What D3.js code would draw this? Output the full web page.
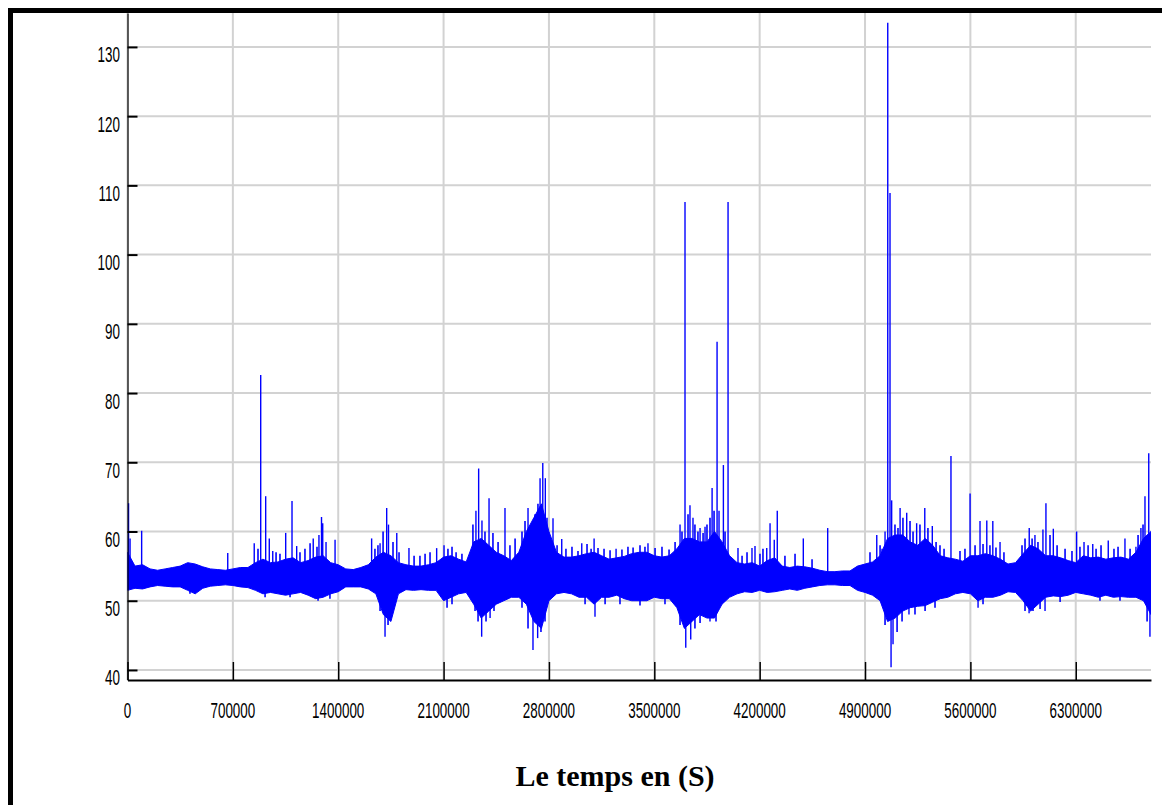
<!DOCTYPE html>
<html>
<head>
<meta charset="utf-8">
<script src="https://cdn.jsdelivr.net/npm/d3@7"></script>
<style>
  body { margin: 0; background: #fff; }
  svg { display: block; }
</style>
</head>
<body>
<svg id="chart" width="1162" height="805"></svg>
<script>
// tick values
var xTicks = [0, 700000, 1400000, 2100000, 2800000, 3500000, 4200000, 4900000, 5600000, 6300000];
var yTicks = [40, 50, 60, 70, 80, 90, 100, 110, 120, 130];

// dense band of the signal, read every 50000 s (upper / lower edge)
var binStep = 50000;
var bandHi = [57, 55, 55.2, 54.6, 54.4, 54.6, 54.8, 55, 55.5, 55.3,
  54.9, 54.6, 54.5, 54.4, 54.6, 54.8, 54.8, 55.5, 56, 55.5,
  55.6, 56, 56.2, 55.5, 55.8, 56.3, 56.5, 55.5, 55.2, 54.6,
  54.5, 54.8, 55.2, 56.3, 57, 56.5, 55.5, 55.2, 55, 55,
  55.2, 55.5, 56.3, 56.5, 56, 55.6, 58.5, 59, 58, 57,
  56.5, 55.8, 57, 60, 62, 64, 60, 57, 56.3, 56.3,
  56.5, 56.8, 57, 56.5, 56, 56.2, 56.4, 56.8, 57, 57,
  56.5, 56.3, 56.5, 57.5, 59, 59, 58.5, 58.5, 60, 58.5,
  56.5, 55.5, 55.3, 55.5, 55, 55.8, 56.2, 55, 54.8, 55,
  54.9, 54.7, 54.4, 54.2, 54.2, 54.3, 54.3, 55, 55.3, 55.6,
  56.5, 59, 59.5, 59.5, 58.5, 58, 59, 58, 56.5, 56.2,
  56, 55.7, 56.5, 56.5, 56.8, 56.5, 56, 55.3, 55.5, 56.8,
  58, 57.5, 56.5, 56.5, 56.2, 55.8, 55.5, 56.5, 56.2, 56.3,
  56, 56.2, 56.3, 56, 57, 59, 60];
var bandLo = [51.5, 51.8, 51.7, 52, 52.2, 52.1, 52, 52, 51.5, 51,
  51.8, 52.1, 52.2, 52.3, 52.2, 52, 51.9, 51.5, 51, 51.2,
  51, 50.8, 51, 51.2, 50.8, 50.3, 50.5, 51, 51.3, 52,
  52, 52, 51.7, 51, 48, 47, 51, 51.6, 51.5, 51.6,
  51.5, 51.5, 50, 50.5, 51, 51.2, 49.5, 47.5, 48.5, 49.5,
  50, 50.5, 50.5, 49.5, 47, 46, 50, 51, 51.2, 51,
  50.5, 50.5, 49.5, 50.5, 50.5, 50.8, 50.3, 50, 50, 50,
  50.5, 50.3, 50.3, 49, 46, 47, 48, 47.5, 47.5, 49.5,
  50.5, 51, 51.3, 51.2, 51.5, 51.2, 51.3, 51.5, 51.7, 51.5,
  51.8, 52, 52.2, 52.3, 52.3, 52.2, 52.2, 51.5, 51.2, 50.8,
  50, 47, 47.5, 48.5, 49, 49.2, 49.3, 49.8, 50.3, 50.5,
  51, 51.2, 51, 50, 50.5, 50.5, 50.8, 51.3, 51.2, 50,
  48.5, 49.5, 50.5, 50.7, 50.6, 50.8, 51.2, 51, 50.8, 50.5,
  50.8, 50.5, 50.6, 50.5, 50.5, 50, 48];

// isolated peaks (time in s, value)
var spikeT = [7000, 17000, 94000, 666000, 842000, 885000, 918000, 942000, 965000, 1051000,
  1093000, 1124000, 1234000, 1272000, 1289000, 1297000, 1319000, 1379000, 1622000, 1678000,
  1722000, 1734000, 1789000, 1870000, 2054000, 2103000, 2315000, 2333000, 2355000, 2402000,
  2508000, 2661000, 2688000, 2707000, 2741000, 2759000, 2776000, 2827000, 2885000, 3018000,
  3100000, 3246000, 3458000, 3671000, 3704000, 3737000, 3757000, 3804000, 3837000, 3884000,
  3917000, 3930000, 3959000, 3990000, 4056000, 4149000, 4169000, 4247000, 4269000, 4297000,
  4317000, 4490000, 4652000, 4978000, 5013000, 5033000, 5051000, 5066000, 5077000, 5133000,
  5177000, 5243000, 5297000, 5347000, 5471000, 5598000, 5664000, 5709000, 5749000, 5797000,
  5991000, 6029000, 6082000, 6102000, 6151000, 6306000, 6355000, 6413000, 6516000, 6627000,
  6700000, 6733000, 6760000, 6785000];
var spikeV = [64.1, 59, 60.1, 56.9, 58.3, 82.6, 65.1, 59, 57.2, 59.8,
  64.4, 57.9, 59, 59.5, 62.1, 61.2, 58.5, 58.8, 59, 58.3,
  63.4, 61, 59.8, 57.6, 57.6, 58, 63, 69.1, 61.6, 64.8,
  63.4, 63.4, 61, 62.5, 67.7, 69.9, 67.7, 61.9, 58.9, 58.3,
  59, 57.5, 58.3, 61, 107.6, 63.8, 62, 60.5, 60.7, 66.3,
  87.4, 63, 69.6, 107.6, 57.6, 57.6, 57.9, 57.6, 61.2, 58.8,
  63, 59, 60.5, 59.5, 57.5, 60, 133.5, 108.9, 64.5, 63.4,
  62.7, 61.2, 63.4, 60.8, 70.9, 65.5, 61.5, 61.6, 61.5, 58.5,
  60.5, 59.5, 60.3, 64.1, 60.4, 60, 58.5, 58.2, 58.7, 59,
  57.8, 60.5, 65.1, 71.3];

// isolated dips (time in s, value)
var dipT = [1711000, 1751000, 2353000, 2409000, 2694000, 2725000, 3106000, 3709000, 3742000, 3870000,
  5073000, 5086000, 5192000, 5651000, 5990000, 6096000, 6793000];
var dipV = [44.8, 47.5, 44.8, 47.5, 42.9, 44.6, 47.7, 43.2, 44.4, 47,
  40.4, 43.7, 48, 49, 48.2, 48.5, 44.8];

// smaller ripples above the band (time in s, value)
var rippleUpT = [867000, 987000, 1013000, 1146000, 1179000, 1213000, 1259000,
  1644000, 1664000, 1698000, 1764000, 1804000,
  1904000, 1943000, 1977000, 2010000, 2129000, 2156000, 2183000, 2222000,
  2295000, 2375000, 2428000, 2462000, 2541000, 2575000,
  2621000, 2641000, 2674000, 2727000, 2787000, 2807000, 2854000,
  2913000, 2953000, 2993000, 3053000, 3080000, 3126000, 3166000, 3206000, 3285000, 3325000, 3359000, 3405000, 3438000, 3505000, 3551000, 3598000, 3638000,
  3684000, 3724000, 3770000, 3790000, 3824000, 3850000, 3870000, 3897000, 3970000,
  4083000, 4116000, 4202000, 4222000, 4368000, 4435000, 4548000,
  4933000, 5000000, 5099000, 5119000, 5152000, 5199000, 5219000, 5265000, 5318000, 5372000, 5398000,
  5425000, 5531000, 5564000, 5631000, 5684000, 5730000, 5770000, 5823000,
  5943000, 5963000, 6010000, 6049000, 6129000, 6176000,
  6229000, 6275000, 6328000, 6382000, 6435000, 6468000, 6554000, 6581000, 6661000, 6714000, 6747000];
var rippleUpV = [57.5, 57, 56.8, 57, 57.5, 58.3, 57.8,
  57.5, 58, 60, 58.5, 57,
  56.5, 56.5, 56.8, 57, 57.5, 57.8, 57, 56.8,
  61, 60, 59.8, 58.5, 58, 59,
  60, 61.5, 60, 64, 62, 59, 58,
  57.5, 57.8, 57.2, 58.2, 57.5, 57.6, 57.5, 57.3, 57.4, 57.8, 57.7, 58, 57.8, 57.6, 57.8, 57.4, 58.5,
  60, 62.5, 61, 60, 59.8, 61, 62, 63, 60,
  56.5, 57, 56.8, 57.5, 56.5, 56.8, 56,
  57, 58, 61, 60.5, 62, 61.5, 60, 61, 60.5, 58.5, 58,
  57.5, 57.2, 57.5, 58, 58.2, 58, 57.7, 57,
  58, 59, 59, 58.5, 59.5, 58,
  57.5, 57.2, 57.8, 58, 57.5, 58, 57.5, 57.8, 57.5, 59.5, 61];

// smaller ripples below the band (time in s, value)
var rippleDownT = [415000, 914000, 1080000, 1266000, 1345000, 1678000, 1731000,
  2123000, 2156000, 2309000, 2329000, 2382000, 2435000,
  2621000, 2661000, 2747000, 2774000, 3040000, 3173000, 3272000, 3405000, 3571000,
  3671000, 3770000, 3804000, 3910000,
  5033000, 5113000, 5146000, 5232000, 5299000, 5365000, 5684000,
  5963000, 6016000, 6063000, 6196000, 6461000, 6594000, 6774000];
var rippleDownV = [51, 50.5, 50.5, 50, 50.3, 48.5, 46.5,
  49, 49.5, 48.5, 47, 47, 48.5,
  49, 46, 45.5, 47, 49.5, 49.5, 49.5, 49.3, 49.5,
  46.5, 46, 46.8, 47,
  46.5, 45.5, 47, 48, 48.5, 49, 49.5,
  48.5, 48.5, 48.8, 49.8, 50, 50, 47];

var baseLevel = 53.3;

var svg = d3.select("#chart");
var plotLeft = 127.5, plotRight = 1151, plotTop = 13, plotBottom = 680;

var x = d3.scaleLinear().domain([0, 6800000]).range([plotLeft, plotRight]);
var y = d3.scaleLinear().domain([38.55, 134.9]).range([plotBottom, plotTop]);

// grid
svg.append("g").selectAll("line")
  .data(xTicks).enter().append("line")
    .attr("x1", function(d){ return x(d); })
    .attr("x2", function(d){ return x(d); })
    .attr("y1", plotTop).attr("y2", plotBottom)
    .attr("stroke", "#d2d2d2").attr("stroke-width", 2);
svg.append("g").selectAll("line")
  .data(yTicks).enter().append("line")
    .attr("x1", plotLeft).attr("x2", plotRight)
    .attr("y1", function(d){ return y(d); })
    .attr("y2", function(d){ return y(d); })
    .attr("stroke", "#d2d2d2").attr("stroke-width", 2);

// signal
svg.append("clipPath").attr("id", "plotclip")
  .append("rect").attr("x", plotLeft).attr("y", plotTop)
  .attr("width", plotRight - plotLeft).attr("height", plotBottom - plotTop);
var sig = svg.append("g").attr("clip-path", "url(#plotclip)");

var band = d3.area()
  .x(function(d, i){ return x(i * binStep); })
  .y0(function(d, i){ return y(bandLo[i]); })
  .y1(function(d){ return y(d); });
sig.append("path").datum(bandHi)
  .attr("d", band)
  .attr("fill", "#0000ff")
  .attr("stroke", "#0000ff")
  .attr("stroke-width", 1);

function drawTicks(cls, ts, vs, w) {
  sig.selectAll("." + cls)
    .data(ts).enter().append("line")
      .attr("class", cls)
      .attr("x1", function(d){ return x(d); })
      .attr("x2", function(d){ return x(d); })
      .attr("y1", y(baseLevel))
      .attr("y2", function(d, i){ return y(vs[i]); })
      .attr("stroke", "#0000ff").attr("stroke-width", w);
}
drawTicks("ripup", rippleUpT, rippleUpV, 1.6);
drawTicks("ripdown", rippleDownT, rippleDownV, 1.6);
drawTicks("spike", spikeT, spikeV, 1.4);
drawTicks("dip", dipT, dipV, 1.4);

// axes (ticks inward, labels drawn separately)
var xAxis = svg.append("g")
  .attr("transform", "translate(0," + plotBottom + ")")
  .call(d3.axisBottom(x).tickValues(xTicks).tickSize(-18).tickSizeOuter(0).tickFormat(""));
xAxis.select(".domain").attr("stroke", "#000").attr("stroke-width", 2);
xAxis.selectAll(".tick line").attr("stroke", "#000").attr("stroke-width", 1.5);

var yAxis = svg.append("g")
  .attr("transform", "translate(" + plotLeft + ",0)")
  .call(d3.axisLeft(y).tickValues(yTicks).tickSize(-10).tickSizeOuter(0).tickFormat(""));
yAxis.select(".domain").attr("stroke", "#000").attr("stroke-width", 1.2);
yAxis.selectAll(".tick line").attr("stroke", "#000").attr("stroke-width", 2);

svg.append("g").selectAll("text")
  .data(yTicks).enter().append("text")
    .attr("transform", function(d){ return "translate(120," + (y(d) + 15.5) + ") scale(0.61,1)"; })
    .attr("text-anchor", "end")
    .attr("font-family", "Liberation Sans, Arial, sans-serif")
    .attr("font-size", 22)
    .attr("fill", "#000")
    .text(function(d){ return d; });

svg.append("g").selectAll("text")
  .data(xTicks).enter().append("text")
    .attr("transform", function(d){ return "translate(" + x(d) + ",718) scale(0.61,1)"; })
    .attr("text-anchor", "middle")
    .attr("font-family", "Liberation Sans, Arial, sans-serif")
    .attr("font-size", 22)
    .attr("fill", "#000")
    .text(function(d){ return d; });

svg.append("text")
  .attr("x", 615).attr("y", 786)
  .attr("text-anchor", "middle")
  .attr("font-family", "Liberation Serif, Times New Roman, serif")
  .attr("font-weight", "bold")
  .attr("font-size", 30)
  .attr("fill", "#000")
  .text("Le temps en (S)");

// frame
svg.append("rect")
  .attr("x", 10.5).attr("y", 10.5)
  .attr("width", 1200).attr("height", 900)
  .attr("fill", "none").attr("stroke", "#000").attr("stroke-width", 5);
</script>
</body>
</html>
